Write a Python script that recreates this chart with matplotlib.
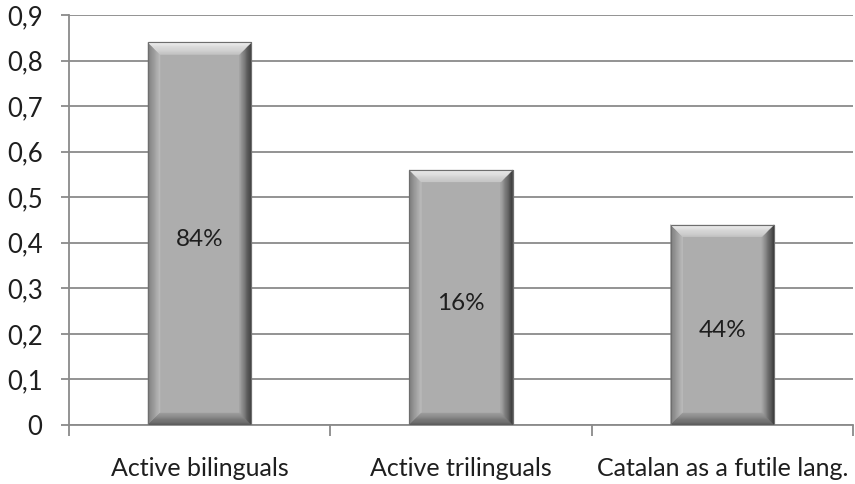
import matplotlib
matplotlib.use('Agg')

import numpy as np
import matplotlib.pyplot as plt
from matplotlib.patches import Polygon

categories = ['Active bilinguals', 'Active trilinguals', 'Catalan as a futile lang.']
values = [0.84, 0.56, 0.44]
bar_labels = ['84%', '16%', '44%']
yticks = [0, 0.1, 0.2, 0.3, 0.4, 0.5, 0.6, 0.7, 0.8, 0.9]

plt.rcParams['font.family'] = ['Lato', 'DejaVu Sans']

fig = plt.figure(figsize=(8.55, 4.84), dpi=100)
ax = fig.add_axes([0.0807, 0.1219, 0.9170, 0.8471])

x = np.arange(len(categories))
width = 0.395
bars = ax.bar(x, values, width=width, color='#adadad', edgecolor='#6a6a6a',
              linewidth=0.8, zorder=3)

ax.set_xlim(-0.5, len(categories) - 0.5)
ax.set_ylim(0, 0.9)

# bevel size in data units (about 12 px each way)
pos = ax.get_position()
bx = 12 / (pos.width * 855) * 3.0
by = 12 / (pos.height * 484) * 0.9


def bevel(outer, inner, c_out, c_in, n=14):
    """Fill the band between an outer and inner edge with n shaded strips."""
    outer = np.array(outer)
    inner = np.array(inner)
    c_out = np.array(matplotlib.colors.to_rgb(c_out))
    c_in = np.array(matplotlib.colors.to_rgb(c_in))
    for k in range(n):
        t0, t1 = k / n, (k + 1) / n
        a = outer + (inner - outer) * t0
        b = outer + (inner - outer) * t1
        col = c_out + (c_in - c_out) * (k + 0.5) / n
        ax.add_patch(Polygon([a[0], a[1], b[1], b[0]], closed=True,
                             facecolor=col, edgecolor=col, linewidth=0.3, zorder=4))


for rect in bars:
    x0 = rect.get_x()
    x1 = x0 + rect.get_width()
    h = rect.get_height()
    # left and right sides first, top and bottom over the corners
    bevel([(x0, 0), (x0, h)], [(x0 + bx, by), (x0 + bx, h - by)],
          '#7a7a7a', '#bcbcbc')
    bevel([(x1, 0), (x1, h)], [(x1 - bx, by), (x1 - bx, h - by)],
          '#333333', '#a6a6a6')
    bevel([(x0, h), (x1, h)], [(x0 + bx, h - by), (x1 - bx, h - by)],
          '#f2f2f2', '#c6c6c6')
    bevel([(x0, 0), (x1, 0)], [(x0 + bx, by), (x1 - bx, by)],
          '#565656', '#9c9c9c')
    ax.add_patch(plt.Rectangle((x0, 0), x1 - x0, h, facecolor='none',
                               edgecolor='#6e6e6e', linewidth=0.8, zorder=5))

for xi, v, lab in zip(x, values, bar_labels):
    ax.annotate(lab, (xi, v / 2), xytext=(0, -4), textcoords='offset points',
                ha='center', va='center', fontsize=17.5, color='#1e1e1e', zorder=6)

ax.set_yticks(yticks)
ax.set_yticklabels([('%g' % t).replace('.', ',') for t in yticks])
ax.yaxis.grid(True, color='#8a8a8a', linewidth=1.3, zorder=0)
ax.set_axisbelow(True)

ax.set_xticks(x)
ax.set_xticklabels(categories)
ax.set_xticks(np.arange(-0.5, len(categories)), minor=True)
ax.tick_params(axis='x', which='major', length=0, pad=23, labelsize=18,
               labelcolor='#1e1e1e')
ax.tick_params(axis='x', which='minor', length=8, width=1.3, color='#8a8a8a',
               direction='out')
ax.tick_params(axis='y', length=6, width=1.3, color='#8a8a8a', labelsize=18.5,
               labelcolor='#1e1e1e', pad=13)

for s in ['top', 'right']:
    ax.spines[s].set_visible(False)
for s in ['left', 'bottom']:
    ax.spines[s].set_color('#8a8a8a')
    ax.spines[s].set_linewidth(1.3)

fig.savefig('out.png', dpi=100)
